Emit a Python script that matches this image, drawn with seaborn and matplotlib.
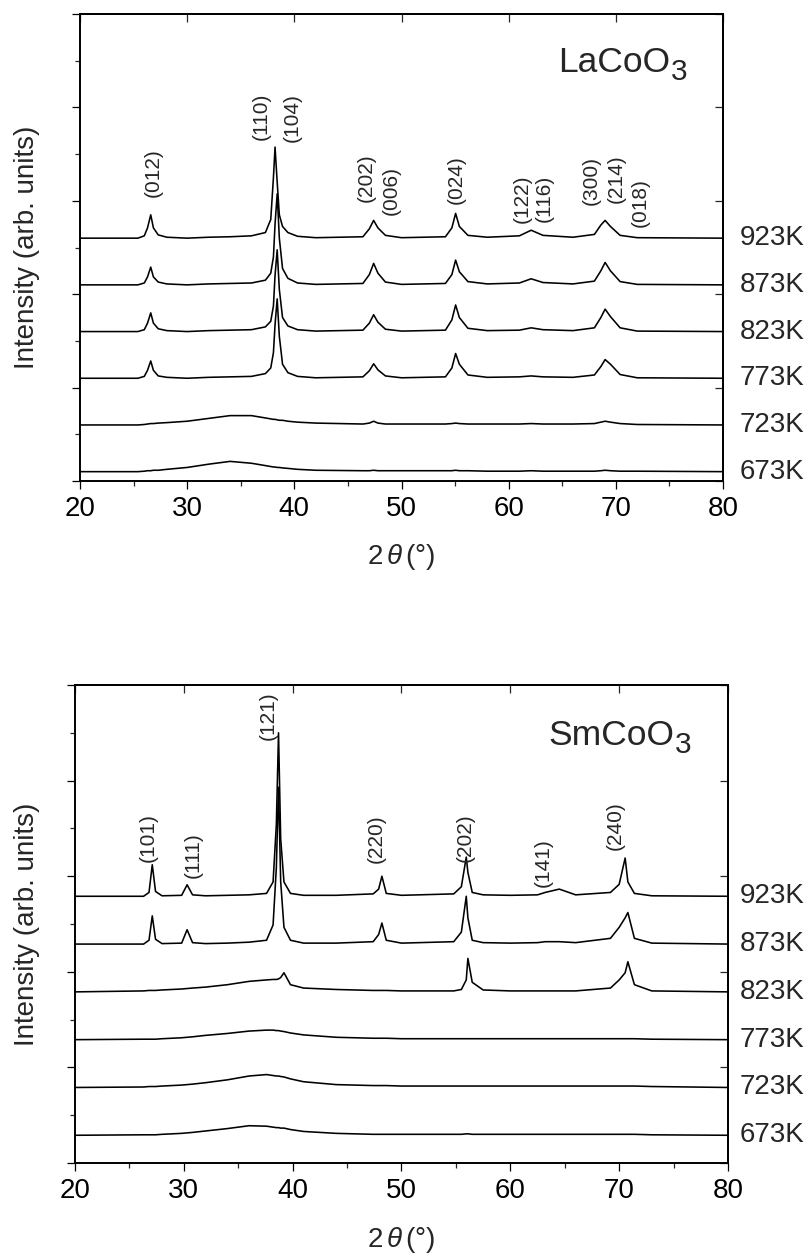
import numpy as np
import matplotlib
matplotlib.use("Agg")
import matplotlib.pyplot as plt
from matplotlib.ticker import NullLocator
from matplotlib.transforms import offset_copy
import seaborn as sns

# ---------------- data ----------------
TEMPS = ["673K", "723K", "773K", "823K", "873K", "923K"]

# LaCoO3 panel: 2theta sample positions and intensity above each trace's baseline
LA_X = [20, 25.4, 26.0, 26.3, 26.6, 26.85, 27.3, 28.1, 30, 32, 34, 36, 37.3, 37.8, 38.05,
        38.2, 38.4, 38.6, 38.9, 39.4, 40.3, 42, 46.4, 47.0, 47.4, 47.8, 48.5, 50, 54.1, 54.7,
        55.05, 55.4, 56.2, 58, 61.0, 62.1, 63.2, 66, 68.0, 68.6, 69.0, 69.5, 70.4, 72, 80]
LA_923 = [0, 0, 0.05, 0.22, 0.5, 0.22, 0.07, 0.02, 0, 0.02, 0.03, 0.05, 0.12, 0.4, 1.3,
          1.95, 1.2, 0.5, 0.25, 0.12, 0.04, 0.01, 0.03, 0.2, 0.38, 0.22, 0.06, 0.01, 0.03, 0.22,
          0.53, 0.25, 0.06, 0.02, 0.05, 0.17, 0.06, 0.02, 0.08, 0.28, 0.38, 0.25, 0.06, 0.01, 0]
LA_873 = [0, 0, 0.04, 0.17, 0.38, 0.17, 0.06, 0.02, 0, 0.02, 0.03, 0.04, 0.1, 0.25, 0.6,
          1.3, 1.95, 1.0, 0.35, 0.14, 0.04, 0.01, 0.03, 0.22, 0.46, 0.25, 0.06, 0.01, 0.03, 0.22,
          0.53, 0.28, 0.07, 0.02, 0.04, 0.13, 0.05, 0.02, 0.08, 0.3, 0.48, 0.3, 0.07, 0.01, 0]
LA_823 = [0, 0, 0.04, 0.18, 0.4, 0.18, 0.06, 0.02, 0, 0.02, 0.03, 0.04, 0.1, 0.22, 0.55,
          1.2, 1.75, 0.9, 0.3, 0.12, 0.04, 0.01, 0.03, 0.18, 0.36, 0.2, 0.05, 0.01, 0.03, 0.25,
          0.57, 0.3, 0.07, 0.02, 0.03, 0.08, 0.04, 0.02, 0.08, 0.3, 0.48, 0.32, 0.08, 0.01, 0]
LA_773 = [0, 0, 0.04, 0.17, 0.37, 0.17, 0.05, 0.02, 0, 0.02, 0.03, 0.04, 0.1, 0.22, 0.55,
          1.15, 1.7, 0.9, 0.3, 0.12, 0.04, 0.01, 0.03, 0.16, 0.31, 0.18, 0.05, 0.01, 0.03, 0.22,
          0.53, 0.3, 0.07, 0.02, 0.03, 0.05, 0.03, 0.02, 0.07, 0.25, 0.4, 0.3, 0.08, 0.01, 0]
LA_723 = [0, 0, 0.01, 0.02, 0.03, 0.03, 0.04, 0.05, 0.08, 0.14, 0.2, 0.2, 0.15, 0.13, 0.12,
          0.12, 0.11, 0.1, 0.1, 0.08, 0.06, 0.04, 0.02, 0.04, 0.08, 0.04, 0.02, 0.02, 0.02, 0.03,
          0.04, 0.03, 0.02, 0.02, 0.02, 0.03, 0.02, 0.02, 0.03, 0.06, 0.08, 0.06, 0.03, 0.01, 0]
LA_673 = [0, 0, 0.01, 0.02, 0.02, 0.03, 0.03, 0.05, 0.09, 0.16, 0.22, 0.18, 0.13, 0.11, 0.1,
          0.1, 0.09, 0.09, 0.08, 0.07, 0.05, 0.03, 0.02, 0.02, 0.03, 0.02, 0.02, 0.02, 0.02, 0.02,
          0.03, 0.02, 0.02, 0.01, 0.01, 0.02, 0.01, 0.01, 0.01, 0.02, 0.03, 0.02, 0.01, 0.01, 0]
LA_TRACES = [LA_673, LA_723, LA_773, LA_823, LA_873, LA_923]

LA_HKL = ["(012)", "(110)", "(104)", "(202)", "(006)", "(024)", "(122)", "(116)",
          "(300)", "(214)", "(018)"]
LA_HKL_X = [26.8, 36.9, 39.8, 46.7, 49.0, 55.1, 61.25, 63.3, 67.7, 70.0, 72.3]
LA_HKL_Y = [6.08, 7.3, 7.26, 5.97, 5.69, 5.93, 5.52, 5.55, 5.91, 5.96, 5.44]

# SmCoO3 panel
SM_X = [20, 26.3, 26.8, 27.1, 27.4, 28, 29.8, 30.3, 30.8, 32, 34, 36, 37.6, 38.2, 38.5,
        38.7, 38.9, 39.2, 39.8, 41, 44, 47.4, 47.9, 48.2, 48.6, 50, 54.8, 55.5, 55.95, 56.1,
        56.5, 57.5, 60, 62.5, 63.2, 64.5, 66, 69.2, 70.0, 70.55, 70.8, 71.4, 73, 80]
SM_923 = [0, 0, 0.08, 0.66, 0.1, 0.01, 0.02, 0.24, 0.03, 0.01, 0.02, 0.03, 0.06, 0.3, 1.5,
          3.42, 1.2, 0.3, 0.06, 0.02, 0.02, 0.05, 0.15, 0.42, 0.06, 0.02, 0.05, 0.2, 0.82, 0.5,
          0.08, 0.03, 0.02, 0.03, 0.08, 0.15, 0.03, 0.08, 0.25, 0.8, 0.3, 0.06, 0.01, 0]
SM_873 = [0, 0, 0.08, 0.59, 0.1, 0.01, 0.02, 0.3, 0.03, 0.01, 0.02, 0.04, 0.08, 0.4, 1.6,
          3.28, 1.3, 0.35, 0.08, 0.02, 0.02, 0.05, 0.2, 0.44, 0.08, 0.02, 0.05, 0.25, 1.0, 0.55,
          0.08, 0.03, 0.02, 0.03, 0.05, 0.05, 0.03, 0.12, 0.35, 0.55, 0.66, 0.12, 0.02, 0]
SM_823 = [0, 0.02, 0.03, 0.03, 0.03, 0.04, 0.06, 0.07, 0.08, 0.1, 0.15, 0.22, 0.25, 0.26, 0.26,
          0.27, 0.3, 0.4, 0.15, 0.08, 0.05, 0.03, 0.03, 0.03, 0.03, 0.02, 0.02, 0.05, 0.25, 0.7,
          0.2, 0.04, 0.02, 0.02, 0.02, 0.02, 0.02, 0.08, 0.25, 0.4, 0.63, 0.15, 0.02, 0]
SM_773 = [0, 0.01, 0.01, 0.01, 0.01, 0.02, 0.04, 0.05, 0.06, 0.09, 0.13, 0.18, 0.2, 0.2, 0.19,
          0.19, 0.18, 0.17, 0.14, 0.1, 0.05, 0.03, 0.03, 0.03, 0.03, 0.02, 0.02, 0.02, 0.02, 0.02,
          0.02, 0.02, 0.02, 0.02, 0.02, 0.02, 0.02, 0.02, 0.02, 0.02, 0.02, 0.02, 0.01, 0]
SM_723 = [0, 0.01, 0.02, 0.02, 0.02, 0.03, 0.05, 0.06, 0.07, 0.1, 0.16, 0.24, 0.27, 0.25, 0.24,
          0.24, 0.23, 0.22, 0.18, 0.12, 0.06, 0.04, 0.04, 0.04, 0.04, 0.03, 0.03, 0.03, 0.03, 0.03,
          0.03, 0.03, 0.03, 0.03, 0.03, 0.03, 0.03, 0.03, 0.03, 0.03, 0.03, 0.03, 0.02, 0]
SM_673 = [0, 0.01, 0.01, 0.01, 0.01, 0.02, 0.04, 0.05, 0.06, 0.09, 0.14, 0.2, 0.19, 0.17, 0.16,
          0.16, 0.15, 0.15, 0.12, 0.08, 0.04, 0.02, 0.02, 0.02, 0.02, 0.02, 0.02, 0.02, 0.03, 0.03,
          0.02, 0.02, 0.02, 0.02, 0.02, 0.02, 0.02, 0.02, 0.02, 0.02, 0.02, 0.02, 0.01, 0]
SM_TRACES = [SM_673, SM_723, SM_773, SM_823, SM_873, SM_923]

SM_HKL = ["(101)", "(111)", "(121)", "(220)", "(202)", "(141)", "(240)"]
SM_HKL_X = [26.7, 30.9, 37.8, 47.7, 55.9, 63.0, 69.6]
SM_HKL_Y = [6.3, 5.96, 8.85, 6.28, 6.3, 5.78, 6.55]

X_MAJOR = [20, 30, 40, 50, 60, 70, 80]
X_MINOR = [25, 35, 45, 55, 65, 75]
Y_MAJOR = [0, 2, 4, 6, 8, 10]
Y_MINOR = [1, 3, 5, 7, 9]

# ---------------- style ----------------
sns.set_style("ticks")
plt.rcParams["font.family"] = ["Liberation Sans", "DejaVu Sans"]
plt.rcParams["mathtext.fontset"] = "custom"
plt.rcParams["mathtext.rm"] = "Liberation Sans"
plt.rcParams["mathtext.it"] = "Liberation Sans:italic"
plt.rcParams["mathtext.bf"] = "Liberation Sans:bold"

W, H = 811, 1254
fig = plt.figure(figsize=(W / 100, H / 100), dpi=100)
ax1 = fig.add_axes([80 / W, 1 - 481 / H, 643 / W, 467 / H])
ax2 = fig.add_axes([75 / W, 1 - 1163 / H, 653 / W, 478 / H])


def style_axes(ax):
    ax.set_xlim(20, 80)
    ax.set_ylim(0, 10)
    ax.set_xticks(X_MAJOR)
    ax.set_xticks(X_MINOR, minor=True)
    ax.set_yticks(Y_MAJOR)
    ax.set_yticks(Y_MINOR, minor=True)
    ax.set_yticklabels([])
    ax.tick_params(which="major", direction="out", length=6, width=0.9,
                   labelsize=20, pad=5, top=False, right=False, colors="black")
    ax.tick_params(which="minor", direction="out", length=3.4, width=0.9,
                   top=False, right=False)
    for s in ax.spines.values():
        s.set_visible(True)
        s.set_linewidth(1.4)
        s.set_color("black")
    sx = ax.secondary_xaxis("top")
    sx.set_xticks(X_MAJOR)
    sx.xaxis.set_minor_locator(NullLocator())
    sx.tick_params(direction="in", length=6, width=0.9, labeltop=False)
    sx.spines["top"].set_linewidth(1.4)
    sy = ax.secondary_yaxis("right")
    sy.set_yticks(Y_MAJOR)
    sy.yaxis.set_minor_locator(NullLocator())
    sy.tick_params(direction="in", length=6, width=0.9, labelright=False)
    sy.spines["right"].set_linewidth(1.4)
    ax.set_xlabel("")
    ax.set_ylabel("")


def draw_panel(ax, xs, traces, base0, hkl, hx, hy):
    for i, (temp, tr) in enumerate(zip(TEMPS, traces)):
        base = base0 + i
        sns.lineplot(x=xs, y=np.asarray(tr) + base, ax=ax, color="black",
                     linewidth=1.15, estimator=None, sort=False, legend=False)
        ax.text(740, base, temp, transform=ax.get_yaxis_transform(),
                ha="left", va="center", fontsize=20, clip_on=False)
    for lab, x, y in zip(hkl, hx, hy):
        ax.text(x, y, lab, rotation=90, ha="center", va="bottom", fontsize=15)
    style_axes(ax)


# temperature labels: x given in figure pixels -> convert to axes fraction
def draw_temps(ax, base0):
    pass


draw_panel(ax1, LA_X, LA_TRACES, 0.2, LA_HKL, LA_HKL_X, LA_HKL_Y)
draw_panel(ax2, SM_X, SM_TRACES, 0.58, SM_HKL, SM_HKL_X, SM_HKL_Y)

# fix temperature label x positions (axes fraction for x = 740 px)
for ax in (ax1, ax2):
    x0 = ax.get_position().x0 * W
    wid = ax.get_position().width * W
    for t in ax.texts:
        if t.get_text() in TEMPS:
            t.set_x((740 - x0) / wid)

# compound names with a large, lowered subscript
fig.canvas.draw()
renderer = fig.canvas.get_renderer()
for name, xs_px, yb_px in (("LaCoO", 558, 72), ("SmCoO", 548, 745)):
    t = fig.text(xs_px / W, 1 - yb_px / H, name, ha="left", va="baseline",
                 fontsize=25.5)
    bb = t.get_window_extent(renderer=renderer)
    fig.text(bb.x1 / W + 1 / W, 1 - (yb_px + 8) / H, "3", ha="left",
             va="baseline", fontsize=21.5)

# axis titles
for yc in (247, 924):
    fig.text(27 / W, 1 - yc / H, "Intensity (arb. units)", rotation=90,
             ha="center", va="center", fontsize=20)
for xc, yc in ((401, 557), (401, 1240)):
    fig.text(xc / W, 1 - yc / H, r"2$\,\theta\,$(°)", ha="center",
             va="center", fontsize=20)

fig.savefig("out.png", dpi=100)
